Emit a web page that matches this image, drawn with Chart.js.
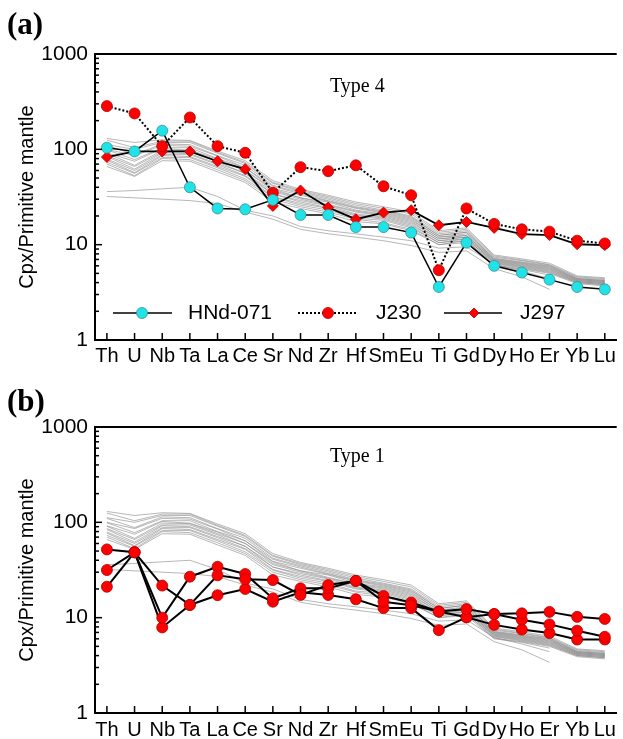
<!DOCTYPE html>
<html>
<head>
<meta charset="utf-8">
<script src="https://cdn.jsdelivr.net/npm/chart.js@4.4.0/dist/chart.umd.min.js"></script>
<style>
  html, body { margin: 0; padding: 0; background: #fff; }
  canvas { position: absolute; left: 0; }
  #chartA { top: 0; }
  #chartB { top: 370px; }
</style>
</head>
<body>
<canvas id="chartA" width="623" height="370"></canvas>
<canvas id="chartB" width="623" height="369"></canvas>
<script>
const elements = ['Th', 'U', 'Nb', 'Ta', 'La', 'Ce', 'Sr', 'Nd', 'Zr', 'Hf', 'Sm', 'Eu', 'Ti', 'Gd', 'Dy', 'Ho', 'Er', 'Yb', 'Lu'];
const yTicks = [1, 10, 100, 1000];

// (a) Type 4 samples
const hnd071 = [104, 95, 157, 40, 24, 23.5, 29.5, 20.5, 20.5, 15.3, 15.3, 13.4, 3.6, 10.5, 6.0, 5.1, 4.3, 3.6, 3.4];
const j230 = [284, 238, 108, 216, 108, 92, 35, 65, 59, 68, 41, 33, 5.4, 24, 16.5, 14.5, 13.7, 11, 10.3];
const j297 = [83, 95, 95, 95, 75, 62, 25.5, 37, 24.5, 18.5, 21.7, 23, 16, 17.3, 15, 12.9, 12.6, 10.1, 9.9];

// (b) Type 1 samples
const t1a = [52, 48.5, 21.7, 13.6, 27.8, 25.3, 24.8, 17.3, 22, 24.3, 14.7, 13.5, 11.6, 12.3, 10.9, 11.1, 11.5, 10.2, 9.7];
const t1b = [31.6, 48.5, 10, 26.9, 34.2, 28.7, 15.9, 20.3, 20.3, 24.3, 16.9, 14.4, 11.6, 10.1, 10.9, 9.5, 8.5, 7.3, 6.3];
const t1c = [21.1, 48.5, 7.9, 13.6, 17.2, 20, 14.7, 18.5, 17.3, 15.6, 12.6, 12.6, 7.4, 10.1, 8.4, 7.5, 6.9, 5.9, 5.9];

// other cpx, grey background in both panels
const bg01 = [130, 118, 126, 124, 96, 76, 47, 38, 33, 28, 25, 22, 14, 15, 7.8, 7.1, 6.4, 4.7, 4.5];
const bg02 = [125, 104, 122, 122, 93, 73, 45, 37, 32, 27, 24, 21, 13.5, 14.5, 7.6, 6.9, 6.2, 4.6, 4.4];
const bg03 = [112, 100, 118, 118, 91, 71, 44, 36, 31, 26, 23, 20, 13, 14, 7.4, 6.8, 6.1, 4.5, 4.3];
const bg04 = [110, 88, 114, 112, 86, 68, 42, 35, 30, 25, 22.5, 19.5, 12.5, 13.5, 7.2, 6.6, 6.0, 4.4, 4.2];
const bg05 = [100, 86, 110, 108, 85, 64, 41, 34, 29, 24.5, 22, 19, 12.5, 13.5, 7.1, 6.5, 5.9, 4.4, 4.2];
const bg06 = [99, 78, 104, 104, 80, 64, 39, 33, 28.5, 24, 21.5, 18.5, 12, 13, 7.0, 6.4, 5.8, 4.3, 4.1];
const bg07 = [92, 75, 102, 98, 79, 60, 38.5, 31, 28, 23, 21, 18, 12, 12.5, 6.9, 6.3, 5.7, 4.3, 4.1];
const bg08 = [91, 68, 98, 97, 76, 60, 37, 31, 26.5, 22.5, 20.5, 17.5, 11.5, 12.5, 6.8, 6.2, 5.6, 4.2, 4.0];
const bg09 = [86, 66, 94, 94, 74, 56, 36, 30, 26, 22, 20, 17, 11.5, 12, 6.7, 6.1, 5.5, 4.2, 4.0];
const bg10 = [84, 62, 92, 90, 71, 56, 34, 29, 25.5, 21, 19.5, 16.5, 11, 12, 6.6, 6.0, 5.4, 4.1, 3.9];
const bg11 = [79, 60, 88, 88, 69, 53, 34, 28, 24.5, 20.5, 19, 16, 11, 11.5, 6.5, 5.9, 5.3, 4.1, 3.9];
const bg12 = [77, 57, 86, 84, 66, 52, 32, 27, 24, 20, 18.5, 15.5, 10.5, 11.5, 6.4, 5.8, 5.2, 4.0, 3.8];
const bg13 = [73, 56, 82, 82, 64, 49, 31.5, 26, 23, 19, 18, 15, 10.5, 11, 6.3, 5.7, 5.1, 4.0, 3.8];
const bg14 = [70, 53, 80, 78, 61, 47, 30, 25, 22, 18.5, 17, 14.5, 10, 11, 6.1, 5.6, 5.0, 3.9, 3.7];
const bg15 = [66, 52, 76, 75, 58, 45, 28, 24, 21, 17.5, 16.5, 14, 10, 10.5, 6.0, 5.5, 4.8, null, null];
const bg16 = [36, 37, 38.5, 40, 32, 23, 20, 15.5, 14, 13, 12, 11, 9.2, 9.5, 6.2, 5.3, 4.4, null, null];
const bg17 = [32, 31, 30, 29, 27, 22, 18.5, 14.5, 13, 12, 11, 9.8, 8.3, 8.6, 5.6, 4.6, 3.4, null, null];
const background = [bg01, bg02, bg03, bg04, bg05, bg06, bg07, bg08, bg09, bg10, bg11, bg12, bg13, bg14, bg15, bg16, bg17];

const SANS = "'Liberation Sans', Arial, sans-serif";
const SERIF = "'Liberation Serif', 'Times New Roman', serif";
const CYAN = '#20e3e8';
const RED = '#ff0000';

function greyLines() {
  return background.map(d => ({
    data: d,
    borderColor: 'rgba(125,125,125,0.7)',
    borderWidth: 0.8,
    pointRadius: 0,
    order: 10
  }));
}

// frame, inside ticks, panel letters and legend
const decor = {
  id: 'decor',
  afterDraw(chart, args, o) {
    const {ctx, chartArea: a, scales: {x, y}} = chart;
    ctx.save();
    ctx.strokeStyle = '#000';
    ctx.lineWidth = 2;
    ctx.beginPath();
    ctx.moveTo(a.left, a.top);
    ctx.lineTo(a.right, a.top);
    ctx.stroke();

    ctx.lineWidth = 1.5;
    for (let d = 1; d < 1000; d *= 10) {
      for (let m = 1; m < 10; m++) {
        const py = y.getPixelForValue(d * m);
        ctx.beginPath();
        ctx.moveTo(a.left, py);
        ctx.lineTo(a.left + (m === 1 ? 7 : 4), py);
        ctx.stroke();
      }
    }
    elements.forEach((e, i) => {
      const px = x.getPixelForValue(i);
      ctx.beginPath();
      ctx.moveTo(px, a.bottom);
      ctx.lineTo(px, a.bottom - 7);
      ctx.stroke();
    });

    ctx.fillStyle = '#000';
    ctx.textBaseline = 'middle';
    ctx.font = 'bold 31px ' + SERIF;
    ctx.fillText(o.tag, 7, o.tagY);
    ctx.font = '20px ' + SERIF;
    ctx.fillText(o.type, 330, 87);

    if (o.legend) {
      const ly = 313;
      ctx.font = '21px ' + SANS;
      const items = [
        {x0: 113, x1: 172, mx: 142, dash: [], style: 'circle', fill: CYAN, stroke: '#3c8c96', text: 'HNd-071', tx: 188},
        {x0: 298, x1: 358, mx: 328, dash: [2, 2], style: 'circle', fill: RED, stroke: '#b00000', text: 'J230', tx: 376},
        {x0: 444, x1: 502, mx: 474, dash: [], style: 'diamond', fill: RED, stroke: '#b00000', text: 'J297', tx: 520}
      ];
      items.forEach(it => {
        ctx.strokeStyle = '#000';
        ctx.lineWidth = it.dash.length ? 2 : 1.5;
        ctx.setLineDash(it.dash);
        ctx.beginPath();
        ctx.moveTo(it.x0, ly);
        ctx.lineTo(it.x1, ly);
        ctx.stroke();
        ctx.setLineDash([]);
        ctx.fillStyle = it.fill;
        ctx.strokeStyle = it.stroke;
        ctx.lineWidth = 0.8;
        ctx.beginPath();
        if (it.style === 'circle') {
          ctx.arc(it.mx, ly, 5.5, 0, Math.PI * 2);
        } else {
          ctx.moveTo(it.mx, ly - 5); ctx.lineTo(it.mx + 5, ly);
          ctx.lineTo(it.mx, ly + 5); ctx.lineTo(it.mx - 5, ly); ctx.closePath();
        }
        ctx.fill();
        ctx.stroke();
        ctx.fillStyle = '#000';
        ctx.fillText(it.text, it.tx, ly);
      });
    }
    ctx.restore();
  }
};

function panel(id, datasets, p) {
  return new Chart(document.getElementById(id), {
    type: 'line',
    data: { labels: elements.map((e, i) => i), datasets: datasets },
    options: {
      responsive: false,
      animation: false,
      layout: { padding: { top: p.top, left: 0, right: 0, bottom: 0 } },
      elements: { line: { tension: 0 } },
      plugins: {
        legend: { display: false },
        tooltip: { enabled: false },
        decor: p.decor
      },
      scales: {
        x: {
          type: 'linear',
          min: -0.43,
          max: 18.43,
          grid: { drawOnChartArea: false, drawTicks: false },
          border: { color: '#000', width: 2 },
          afterBuildTicks: s => { s.ticks = elements.map((e, i) => ({ value: i })); },
          afterFit: s => { s.height = p.xh; },
          ticks: {
            callback: v => elements[v],
            autoSkip: false,
            maxRotation: 0,
            color: '#000',
            padding: p.xpad,
            font: { family: SANS, size: 20 }
          }
        },
        y: {
          type: 'logarithmic',
          min: 1,
          max: 1000,
          grid: { drawOnChartArea: false, drawTicks: false },
          border: { color: '#000', width: 2 },
          afterBuildTicks: s => { s.ticks = yTicks.map(v => ({ value: v })); },
          afterFit: s => { s.width = 95; },
          ticks: {
            callback: v => String(v),
            color: '#000',
            padding: 7,
            font: { family: SANS, size: 21 }
          },
          title: {
            display: true,
            text: 'Cpx/Primitive mantle',
            color: '#000',
            padding: { top: 15, bottom: 0 },
            font: { family: SANS, size: 20 }
          }
        }
      }
    },
    plugins: [decor]
  });
}

panel('chartA', [
  { label: 'HNd-071', data: hnd071, borderColor: '#000', borderWidth: 1.5,
    pointRadius: 5.5, pointBackgroundColor: CYAN, pointBorderColor: '#3c8c96', pointBorderWidth: 0.8, order: 0 },
  { label: 'J230', data: j230, borderColor: '#000', borderWidth: 2, borderDash: [2, 2],
    pointRadius: 5.5, pointBackgroundColor: RED, pointBorderColor: '#b00000', pointBorderWidth: 0.8, order: 1 },
  { label: 'J297', data: j297, borderColor: '#000', borderWidth: 1.8, pointStyle: 'rectRot',
    pointRadius: 5.5, pointBackgroundColor: RED, pointBorderColor: '#b00000', pointBorderWidth: 0.8, order: 2 }
].concat(greyLines()), { top: 54, xh: 30, xpad: 4, decor: { tag: '(a)', tagY: 26, type: 'Type 4', legend: true } });

panel('chartB', [t1a, t1b, t1c].map((d, i) => ({
  data: d, borderColor: '#000', borderWidth: 2,
  pointRadius: 5.5, pointBackgroundColor: RED, pointBorderColor: '#b00000', pointBorderWidth: 0.8, order: i
})).concat(greyLines()), { top: 57, xh: 26, xpad: 5, decor: { tag: '(b)', tagY: 33, type: 'Type 1', legend: false } });
</script>
</body>
</html>
